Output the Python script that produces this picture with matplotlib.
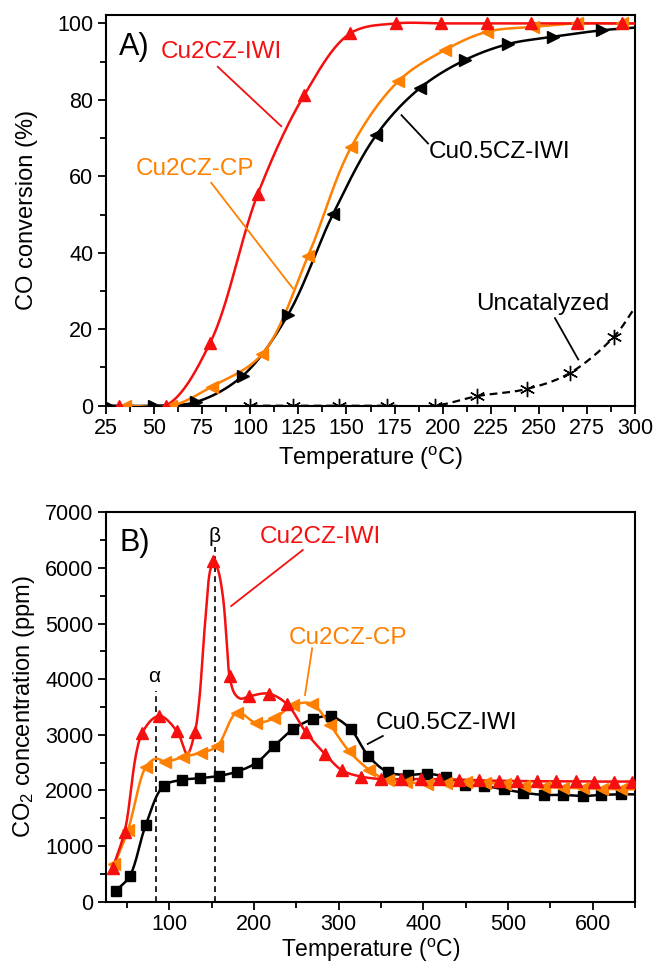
import numpy as np
import matplotlib
matplotlib.use("Agg")
import matplotlib.pyplot as plt
from matplotlib.ticker import MultipleLocator, AutoMinorLocator

plt.rcParams['font.family'] = ['Liberation Sans', 'DejaVu Sans']
plt.rcParams['mathtext.fontset'] = 'custom'
plt.rcParams['mathtext.rm'] = 'Liberation Sans'
plt.rcParams['mathtext.default'] = 'regular'

# ---------------- Panel A data: CO conversion (%) vs temperature (C) ----------------
a_red_T = [32, 56, 79, 104, 128, 152, 176, 199, 223, 246, 270, 293, 300]
a_red_Y = [0, 0, 16.3, 55.5, 81.2, 97.4, 100, 100, 100, 100, 100, 100, 100]
a_red_mk = list(range(12))

a_orange_T = [35, 59, 80, 106, 130, 152.5, 177, 201, 223, 247, 270, 293, 300]
a_orange_Y = [0, 0, 5.0, 13.4, 39.1, 67.7, 84.9, 93.0, 97.8, 99.1, 100, 100, 100]
a_orange_mk = list(range(12))

a_black_T = [26, 50, 72, 96, 119.5, 143, 165.5, 188, 211.5, 234, 257.5, 282.7, 300]
a_black_Y = [0, 0, 1.0, 7.8, 23.7, 50.1, 70.8, 83.0, 90.4, 94.6, 96.5, 98.2, 98.9]
a_black_mk_right = [0, 1, 2, 3, 4, 8, 9, 10, 11]
a_black_mk_left = [5, 6, 7]

a_unc_T = [100, 122, 146, 171, 196, 218, 244, 266, 289, 300]
a_unc_Y = [0, 0, 0, 0, 0, 2.5, 4.4, 8.5, 18.0, 25.7]
a_unc_mk = list(range(9))

# ---------------- Panel B data: CO2 concentration (ppm) vs temperature (C) ----------------
b_red_T = [33, 47, 68, 88, 109, 121, 130, 135, 142, 148, 152, 157, 163, 168, 171, 177, 184,
           194, 217, 239, 261, 284, 304, 326, 350, 373, 397, 419, 442, 466, 489, 511, 534,
           557, 580, 602, 625, 647, 650]
b_red_Y = [610, 1260, 3040, 3340, 3060, 2660, 3050, 3600, 5000, 5950, 6120, 5980, 5500, 4600,
           4050, 3740, 3650, 3690, 3740, 3550, 3050, 2650, 2360, 2250, 2205, 2200, 2205, 2200,
           2195, 2180, 2175, 2170, 2165, 2165, 2165, 2160, 2160, 2160, 2160]
b_red_mk = [0, 1, 2, 3, 4, 6, 10, 14, 17, 18, 19, 20, 21, 22, 23, 24, 25, 26, 27, 28, 29,
            30, 31, 32, 33, 34, 35, 36, 37]

b_orange_T = [35, 51, 72, 84, 95, 116, 137, 156, 180, 202, 224, 246, 268, 290, 312, 336, 358,
              380, 404, 427, 450, 473, 496, 519, 542, 565, 588, 611, 634, 650]
b_orange_Y = [670, 1290, 2420, 2570, 2520, 2600, 2680, 2790, 3400, 3220, 3300, 3530, 3560, 3170,
              2710, 2370, 2180, 2150, 2120, 2140, 2150, 2140, 2110, 2080, 2060, 2050, 2040,
              2030, 2020, 2020]
b_orange_mk = [0, 1, 2] + list(range(4, 29))

b_black_T = [37, 53, 72, 93, 115, 136, 158, 180, 203, 223, 246, 269, 291, 314, 335, 358, 382,
             404, 427, 449, 472, 495, 518, 542, 565, 588, 610, 634, 650]
b_black_Y = [200, 460, 1380, 2080, 2190, 2220, 2260, 2340, 2500, 2790, 3100, 3280, 3330, 3100,
             2620, 2330, 2280, 2300, 2240, 2100, 2080, 2020, 1960, 1920, 1920, 1900, 1920,
             1930, 1930]
b_black_mk = list(range(28))

alpha_T, alpha_top = 83.5, 3780
beta_T, beta_top = 153.5, 6380

RED = '#f50f0f'
ORANGE = '#ff8000'
BLACK = '#000000'

fig = plt.figure(figsize=(6.54, 9.66), dpi=100)
axA = fig.add_axes([106 / 654, 1 - 405.7 / 966, 529 / 654, 390.7 / 966])
axB = fig.add_axes([106 / 654, 1 - 901.7 / 966, 529 / 654, 389.4 / 966])

axA.set_xlim(25, 300)
axA.set_ylim(0, 102.2)
axB.set_xlim(25, 650)
axB.set_ylim(0, 7000)


def smooth(ax, x, y, n=24):
    """Centripetal Catmull-Rom curve through the points (in display-like space)."""
    x = np.asarray(x, float)
    y = np.asarray(y, float)
    x0, x1 = ax.get_xlim()
    y0, y1 = ax.get_ylim()
    pos = ax.get_position()
    W = pos.width * fig.get_figwidth()
    H = pos.height * fig.get_figheight()
    P = np.column_stack([(x - x0) / (x1 - x0) * W, (y - y0) / (y1 - y0) * H])
    P = np.vstack([2 * P[0] - P[1], P, 2 * P[-1] - P[-2]])
    out = []
    for i in range(1, len(P) - 2):
        p0, p1, p2, p3 = P[i - 1], P[i], P[i + 1], P[i + 2]
        t0 = 0.0
        t1 = t0 + max(np.linalg.norm(p1 - p0), 1e-6) ** 0.5
        t2 = t1 + max(np.linalg.norm(p2 - p1), 1e-6) ** 0.5
        t3 = t2 + max(np.linalg.norm(p3 - p2), 1e-6) ** 0.5
        t = np.linspace(t1, t2, n)[:, None]
        A1 = (t1 - t) / (t1 - t0) * p0 + (t - t0) / (t1 - t0) * p1
        A2 = (t2 - t) / (t2 - t1) * p1 + (t - t1) / (t2 - t1) * p2
        A3 = (t3 - t) / (t3 - t2) * p2 + (t - t2) / (t3 - t2) * p3
        B1 = (t2 - t) / (t2 - t0) * A1 + (t - t0) / (t2 - t0) * A2
        B2 = (t3 - t) / (t3 - t1) * A2 + (t - t1) / (t3 - t1) * A3
        C = (t2 - t) / (t2 - t1) * B1 + (t - t1) / (t2 - t1) * B2
        out.append(C if i == len(P) - 3 else C[:-1])
    C = np.vstack(out)
    return C[:, 0] / W * (x1 - x0) + x0, C[:, 1] / H * (y1 - y0) + y0


def series(ax, T, Y, color, marker, mk, ls='-', ms=8, lw=1.8, mew=1.0, mfc=None):
    sx, sy = smooth(ax, T, Y)
    ax.plot(sx, sy, color=color, lw=lw, ls=ls, zorder=3)
    T = np.asarray(T)
    Y = np.asarray(Y)
    ax.plot(T[mk], Y[mk], ls='none', marker=marker, ms=ms, color=color,
            mfc=color if mfc is None else mfc, mew=mew, zorder=4)


# ----- Panel A -----
series(axA, a_unc_T, a_unc_Y, BLACK, (6, 2, 0), a_unc_mk, ls=(0, (3.5, 2.2)), ms=11, lw=1.6, mew=1.0)
series(axA, a_black_T, a_black_Y, BLACK, '>', a_black_mk_right, ms=8)
axA.plot(np.asarray(a_black_T)[a_black_mk_left], np.asarray(a_black_Y)[a_black_mk_left],
         ls='none', marker='<', ms=8, color=BLACK, zorder=4)
series(axA, a_orange_T, a_orange_Y, ORANGE, '<', a_orange_mk, ms=8)
series(axA, a_red_T, a_red_Y, RED, '^', a_red_mk, ms=8)

lab_fs = 17.5
axA.text(39.7, 93.9, 'A)', fontsize=22, ha='center', va='center')
axA.text(84.9, 92.4, 'Cu2CZ-IWI', color=RED, fontsize=lab_fs, ha='center', va='center')
axA.plot([83.1, 116.1], [88.65, 73.1], color=RED, lw=1.3, zorder=5)
axA.text(71.5, 61.9, 'Cu2CZ-CP', color=ORANGE, fontsize=lab_fs, ha='center', va='center')
axA.plot([79.7, 122.1], [58.3, 30.7], color=ORANGE, lw=1.3, zorder=5)
axA.text(229.7, 66.3, 'Cu0.5CZ-IWI', color=BLACK, fontsize=lab_fs, ha='center', va='center')
axA.plot([192.4, 178.6], [68.6, 76.0], color=BLACK, lw=1.3, zorder=5)
axA.text(252.1, 26.6, 'Uncatalyzed', color=BLACK, fontsize=lab_fs, ha='center', va='center')
axA.plot([258.4, 270.5], [22.9, 12.1], color=BLACK, lw=1.3, zorder=5)

axA.xaxis.set_major_locator(MultipleLocator(25))
axA.xaxis.set_minor_locator(AutoMinorLocator(2))
axA.yaxis.set_major_locator(MultipleLocator(20))
axA.yaxis.set_minor_locator(AutoMinorLocator(2))
axA.set_xlabel('Temperature ($^{o}$C)', fontsize=17, labelpad=4)
axA.set_ylabel('CO conversion (%)', fontsize=17, labelpad=14)

# ----- Panel B -----
axB.plot([alpha_T, alpha_T], [0, alpha_top], color=BLACK, lw=1.2, ls=(0, (3.5, 2.5)), zorder=2)
axB.plot([beta_T, beta_T], [0, beta_top], color=BLACK, lw=1.2, ls=(0, (3.5, 2.5)), zorder=2)
series(axB, b_black_T, b_black_Y, BLACK, 's', b_black_mk, ms=7)
series(axB, b_orange_T, b_orange_Y, ORANGE, '<', b_orange_mk, ms=8)
series(axB, b_red_T, b_red_Y, RED, '^', b_red_mk, ms=8)

axB.text(58.7, 6448, 'B)', fontsize=22, ha='center', va='center')
axB.text(alpha_T - 1, 4050, 'α', fontsize=15, ha='center', va='center')
axB.text(beta_T, 6561, 'β', fontsize=15, ha='center', va='center')
axB.text(278.2, 6556, 'Cu2CZ-IWI', color=RED, fontsize=lab_fs, ha='center', va='center')
axB.plot([257.5, 172.9], [6322, 5315], color=RED, lw=1.3, zorder=5)
axB.text(311.4, 4749, 'Cu2CZ-CP', color=ORANGE, fontsize=lab_fs, ha='center', va='center')
axB.plot([268.6, 260.1], [4555, 3716], color=ORANGE, lw=1.3, zorder=5)
axB.text(426.8, 3212, 'Cu0.5CZ-IWI', color=BLACK, fontsize=lab_fs, ha='center', va='center')
axB.plot([352.0, 334.2], [2979, 2835], color=BLACK, lw=1.3, zorder=5)

axB.xaxis.set_major_locator(MultipleLocator(100))
axB.xaxis.set_minor_locator(AutoMinorLocator(2))
axB.yaxis.set_major_locator(MultipleLocator(1000))
axB.yaxis.set_minor_locator(AutoMinorLocator(2))
axB.set_xlabel('Temperature ($^{o}$C)', fontsize=16.5, labelpad=1)
axB.set_ylabel('CO$_{2}$ concentration (ppm)', fontsize=17, labelpad=6)

for ax in (axA, axB):
    for s in ax.spines.values():
        s.set_linewidth(1.5)
    ax.tick_params(which='major', direction='out', length=6, width=1.3, labelsize=15.5, pad=3)
    ax.tick_params(which='minor', direction='out', length=4, width=1.3)

fig.savefig('out.png', dpi=100)
